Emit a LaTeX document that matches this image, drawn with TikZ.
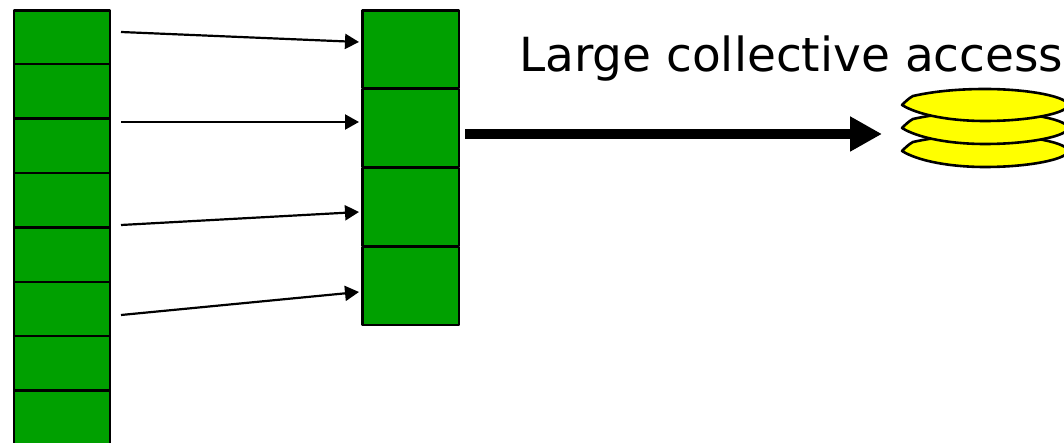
\documentclass[tikz,border=0pt]{standalone}
\usepackage{fontspec}
\setmainfont{DejaVu Sans}
\usetikzlibrary{arrows.meta}
\definecolor{cellgreen}{RGB}{0,160,0}
\definecolor{diskyellow}{RGB}{255,255,0}
\tikzset{
 cellbox/.style={draw=black,fill=cellgreen,line width=2.6pt,line join=round},
 thin arrow/.style={draw=black,line width=2.2pt,-{Triangle[length=14pt,width=15pt]}},
 thick arrow/.style={draw=black,line width=10.5pt,-{Triangle[length=32pt,width=33pt]}},
 disk/.style={draw=black,fill=diskyellow,line width=2.6pt,line join=round}
}
\begin{document}
\begin{tikzpicture}[x=1pt,y=-1pt]
\useasboundingbox (0,0) rectangle (1064,443);
\clip (0,0) rectangle (1064,443);
% left column
\foreach \n/\a/\b in {1/10.5/64,2/64/118.5,3/118.5/173,4/173/227.5,5/227.5/282,6/282/336,7/336/390.5,8/390.5/450}{
  \path[cellbox] (14,\a) rectangle (110,\b);
}
% middle column
\path[cellbox] (362.5,10.5) rectangle (459,88);
\path[cellbox] (362.5,89) rectangle (459,167);
\path[cellbox] (362.5,168) rectangle (459,246);
\path[cellbox] (362.5,247) rectangle (459,325);
% arrow ends
\coordinate (s1) at (121,32); \coordinate (t1) at (359,42);
\coordinate (s2) at (121,122); \coordinate (t2) at (359,122);
\coordinate (s3) at (121,225); \coordinate (t3) at (359,212);
\coordinate (s4) at (121,315); \coordinate (t4) at (359,292);
\foreach \i in {1,2,3,4}{\draw[thin arrow] (s\i) -- (t\i);}
\coordinate (bs) at (465,134); \coordinate (bt) at (882,134);
\draw[thick arrow] (bs) -- (bt);
\node[anchor=base west,inner sep=0pt,font=\fontsize{47}{47}\selectfont] (lbl) at (519,72) {Large collective access};
% disks
\foreach \y in {151,128,105}{
 \path[disk] (902,\y) .. controls (905,\y-3) and (909,\y-7) .. (913,\y-9)
   .. controls (935,\y-14) and (960,\y-16) .. (985,\y-16)
   .. controls (1030,\y-16) and (1068,\y-8) .. (1068,\y)
   .. controls (1068,\y+8) and (1030,\y+16) .. (985,\y+16)
   .. controls (950,\y+16) and (918,\y+10) .. (902,\y) -- cycle;
}
\end{tikzpicture}
\end{document}
